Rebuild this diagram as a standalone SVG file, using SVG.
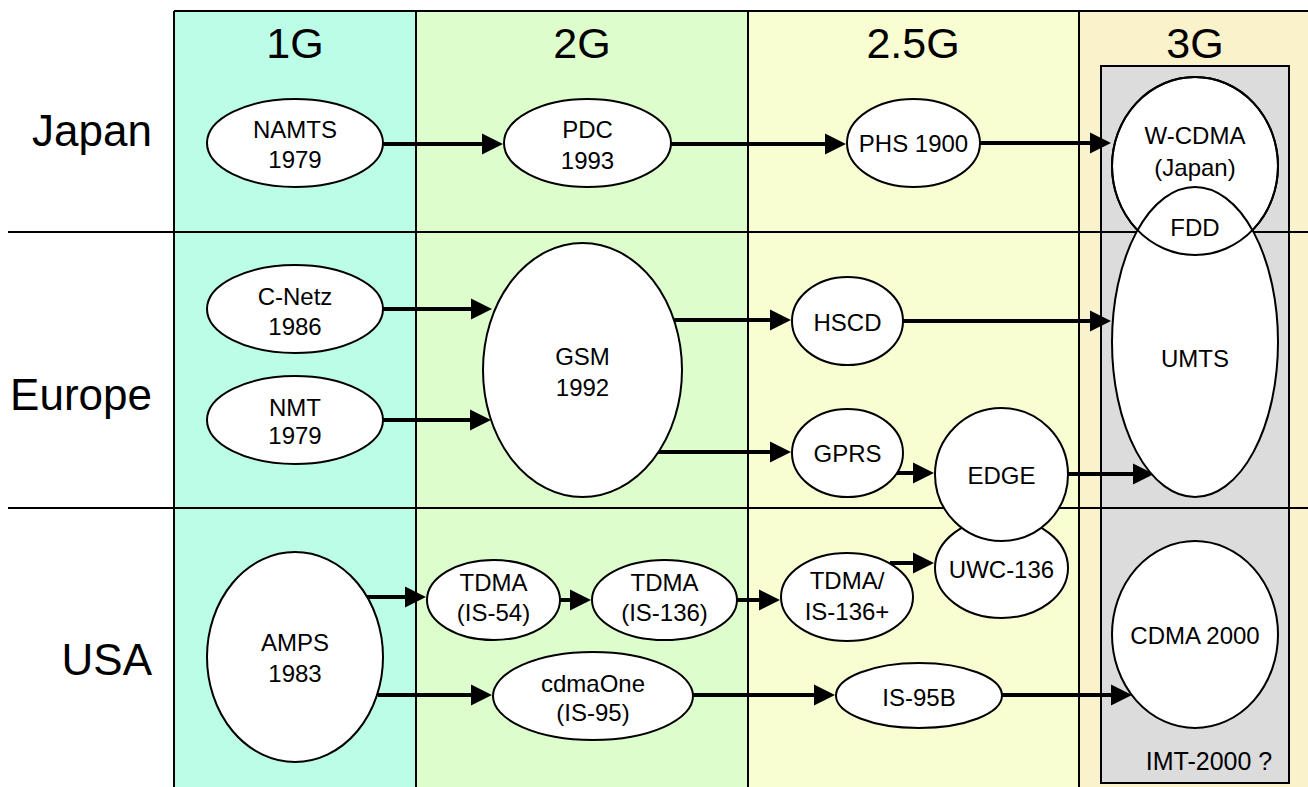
<svg xmlns="http://www.w3.org/2000/svg" width="1308" height="787" viewBox="0 0 1308 787">
<defs>
<style>
text{font-family:"Liberation Sans",Arial,sans-serif;fill:#000;text-anchor:middle}
.lbl{font-size:24px}
.hdr{font-size:43px}
.row{font-size:44px;text-anchor:end}
.node{fill:#fff;stroke:#000;stroke-width:2}
.outl{fill:none;stroke:#000;stroke-width:2}
.grid{stroke:#000;stroke-width:2;fill:none}
.conn line{stroke:#000;stroke-width:4;marker-end:url(#ah)}
</style>
<marker id="ah" markerUnits="userSpaceOnUse" markerWidth="22" markerHeight="22" refX="10" refY="11" orient="auto">
<path d="M0,0.5 L21,11 L0,21.5 z" fill="#000"/>
</marker>
</defs>
<rect width="1308" height="787" fill="#fff"/>
<g id="columns">
<rect x="174" y="11" width="242" height="776" fill="#BBFDE7"/>
<rect x="416" y="11" width="332" height="776" fill="#DDFECC"/>
<rect x="748" y="11" width="331" height="776" fill="#F9FED2"/>
<rect x="1079" y="11" width="229" height="776" fill="#FAF2CA"/>
<rect x="1101" y="66" width="188" height="717" fill="#DCDCDC" stroke="#000" stroke-width="2"/>
<path class="grid" d="M174,11 H1308 M8,232 H1308 M8,508 H1308 M174,11 V787 M416,11 V787 M748,11 V787 M1079,11 V787"/>
<text class="hdr" x="295" y="58">1G</text>
<text class="hdr" x="582" y="58">2G</text>
<text class="hdr" x="913" y="58">2.5G</text>
<text class="hdr" x="1195" y="58">3G</text>
<text class="row" x="152" y="146">Japan</text>
<text class="row" x="152" y="410">Europe</text>
<text class="row" x="152" y="675">USA</text>
<text class="lbl" x="1209" y="770" style="font-size:25px">IMT-2000 ?</text>
</g>
<g class="conn" id="connectors">
<line x1="383" y1="144" x2="492" y2="144"/>
<line x1="671" y1="144" x2="835" y2="144"/>
<line x1="980" y1="143" x2="1100" y2="143"/>
<line x1="383" y1="309" x2="481" y2="309"/>
<line x1="383" y1="420" x2="480" y2="420"/>
<line x1="673" y1="320" x2="780" y2="320"/>
<line x1="657" y1="452" x2="780" y2="452"/>
<line x1="903" y1="321" x2="1100" y2="321"/>
<line x1="894" y1="473" x2="923" y2="473"/>
<line x1="1068" y1="474" x2="1143" y2="474"/>
<line x1="367" y1="597" x2="415" y2="597"/>
<line x1="560" y1="600" x2="580" y2="600"/>
<line x1="737" y1="600" x2="769" y2="600"/>
<line x1="890" y1="563" x2="923" y2="563"/>
<line x1="378" y1="695" x2="481" y2="695"/>
<line x1="693" y1="695" x2="824" y2="695"/>
<line x1="1002" y1="695" x2="1121" y2="695"/>
</g>
<g id="n-namts"><ellipse class="node" cx="295" cy="143" rx="88" ry="44"/><text class="lbl" x="295" y="138">NAMTS</text><text class="lbl" x="295" y="168">1979</text></g>
<g id="n-pdc"><ellipse class="node" cx="587.5" cy="143" rx="83.5" ry="44"/><text class="lbl" x="587.5" y="138">PDC</text><text class="lbl" x="587.5" y="169">1993</text></g>
<g id="n-phs"><ellipse class="node" cx="913.5" cy="143" rx="66.5" ry="44"/><text class="lbl" x="913.5" y="152">PHS 1900</text></g>
<g id="n-cnetz"><ellipse class="node" cx="295" cy="309" rx="88" ry="44"/><text class="lbl" x="295" y="305">C-Netz</text><text class="lbl" x="295" y="335">1986</text></g>
<g id="n-nmt"><ellipse class="node" cx="295" cy="420" rx="88" ry="44"/><text class="lbl" x="295" y="416">NMT</text><text class="lbl" x="295" y="444">1979</text></g>
<g id="n-gsm"><ellipse class="node" cx="582.5" cy="370" rx="99.5" ry="127"/><text class="lbl" x="582.5" y="365">GSM</text><text class="lbl" x="582.5" y="396">1992</text></g>
<g id="n-hscd"><ellipse class="node" cx="847.5" cy="321" rx="55.5" ry="44"/><text class="lbl" x="847.5" y="331">HSCD</text></g>
<g id="n-gprs"><ellipse class="node" cx="847.5" cy="453" rx="55.5" ry="44"/><text class="lbl" x="847.5" y="462">GPRS</text></g>
<g id="n-uwc"><ellipse class="node" cx="1001.5" cy="568" rx="66.5" ry="50"/><text class="lbl" x="1001.5" y="578">UWC-136</text></g>
<g id="n-edge"><ellipse class="node" cx="1001.5" cy="474.5" rx="66.5" ry="66.5"/><text class="lbl" x="1001.5" y="484">EDGE</text></g>
<g id="n-amps"><ellipse class="node" cx="295" cy="657" rx="88" ry="105"/><text class="lbl" x="295" y="651">AMPS</text><text class="lbl" x="295" y="682">1983</text></g>
<g id="n-tdma54"><ellipse class="node" cx="493.5" cy="600" rx="66.5" ry="40"/><text class="lbl" x="493.5" y="591">TDMA</text><text class="lbl" x="493.5" y="621">(IS-54)</text></g>
<g id="n-tdma136"><ellipse class="node" cx="664.5" cy="600" rx="72.5" ry="40"/><text class="lbl" x="664.5" y="591">TDMA</text><text class="lbl" x="664.5" y="621">(IS-136)</text></g>
<g id="n-tdma136p"><ellipse class="node" cx="847" cy="597" rx="66" ry="44"/><text class="lbl" x="847" y="589">TDMA/</text><text class="lbl" x="847" y="620">IS-136+</text></g>
<g id="n-cdmaone"><ellipse class="node" cx="593" cy="696" rx="100" ry="44"/><text class="lbl" x="593" y="692">cdmaOne</text><text class="lbl" x="593" y="721">(IS-95)</text></g>
<g id="n-is95b"><ellipse class="node" cx="919" cy="695.5" rx="83" ry="32.5"/><text class="lbl" x="919" y="706">IS-95B</text></g>
<g id="n-wcdma-umts">
<ellipse class="node" cx="1195" cy="166" rx="83" ry="89"/>
<ellipse class="node" cx="1195" cy="342" rx="83" ry="155"/>
<ellipse class="outl" cx="1195" cy="166" rx="83" ry="89"/>
<text class="lbl" x="1195" y="144">W-CDMA</text>
<text class="lbl" x="1195" y="176">(Japan)</text>
<text class="lbl" x="1195" y="236">FDD</text>
<text class="lbl" x="1195" y="367">UMTS</text>
</g>
<g id="n-cdma2000"><ellipse class="node" cx="1195" cy="634.5" rx="83" ry="93.5"/><text class="lbl" x="1195" y="644">CDMA 2000</text></g>
</svg>
